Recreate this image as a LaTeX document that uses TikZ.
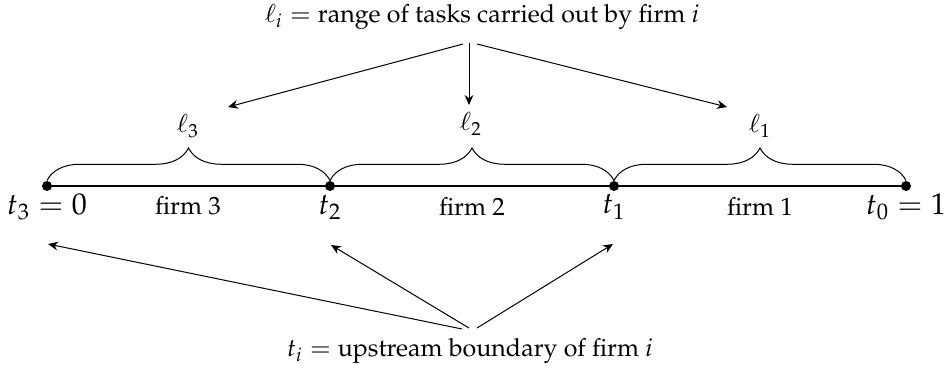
\documentclass[tikz,border=0pt]{standalone}
\usepackage[T1]{fontenc}
\usepackage{mathpazo}
\usetikzlibrary{decorations.pathreplacing,arrows.meta}
\begin{document}
\begin{tikzpicture}[x=0.4pt,y=-0.4pt,
  dot/.style={circle,fill,inner sep=0pt,minimum size=4pt},
  tlab/.style={font=\large,inner sep=1pt},
  firmlab/.style={inner sep=1pt},
  ellab/.style={inner sep=1pt},
  bracestyle/.style={decorate,decoration={brace,amplitude=13pt}},
  arr/.style={-{Stealth[length=4pt,width=3.5pt]},line width=0.4pt}]
\useasboundingbox (0,0) rectangle (946,368);
\node[dot] (p3) at (47,186) {};
\node[dot] (p2) at (330,186) {};
\node[dot] (p1) at (614,186) {};
\node[dot] (p0) at (906,186) {};
\draw[line width=1.1pt] (p3.center) -- (p0.center);
\draw[bracestyle] (p3.north) -- (p2.north);
\draw[bracestyle] (p2.north) -- (p1.north);
\draw[bracestyle] (p1.north) -- (p0.north);
\node[tlab] (t3) at (47,207) {$t_3=0$};
\node[tlab] (t2) at (330,207) {$t_2$};
\node[tlab] (t1) at (614,207) {$t_1$};
\node[tlab] (t0) at (906,207) {$t_0=1$};
\node[firmlab] (f3) at (188,206) {firm 3};
\node[firmlab] (f2) at (472,206) {firm 2};
\node[firmlab] (f1) at (760,206) {firm 1};
\node[ellab] (l3) at (188,126) {$\ell_3$};
\node[ellab] (l2) at (471,124) {$\ell_2$};
\node[ellab] (l1) at (760,126) {$\ell_1$};
\node[inner sep=1pt] (top) at (482,17) {$\ell_i={}$range of tasks carried out by firm $i$};
\node[inner sep=1pt] (bot) at (470,351) {$t_i={}$upstream boundary of firm $i$};
\coordinate (e3) at (228,107);
\coordinate (e2) at (469,105);
\coordinate (e1) at (727,107);
\coordinate (s3) at (463,44);
\coordinate (s2) at (469,43);
\coordinate (s1) at (477,44);
\draw[arr] (s3) -- (e3);
\draw[arr] (s2) -- (e2);
\draw[arr] (s1) -- (e1);
\coordinate (b3) at (48,244);
\coordinate (b2) at (331,245);
\coordinate (b1) at (613,244);
\coordinate (u3) at (462,329);
\coordinate (u2) at (469,328);
\coordinate (u1) at (477,328);
\draw[arr] (u3) -- (b3);
\draw[arr] (u2) -- (b2);
\draw[arr] (u1) -- (b1);
\end{tikzpicture}
\end{document}
